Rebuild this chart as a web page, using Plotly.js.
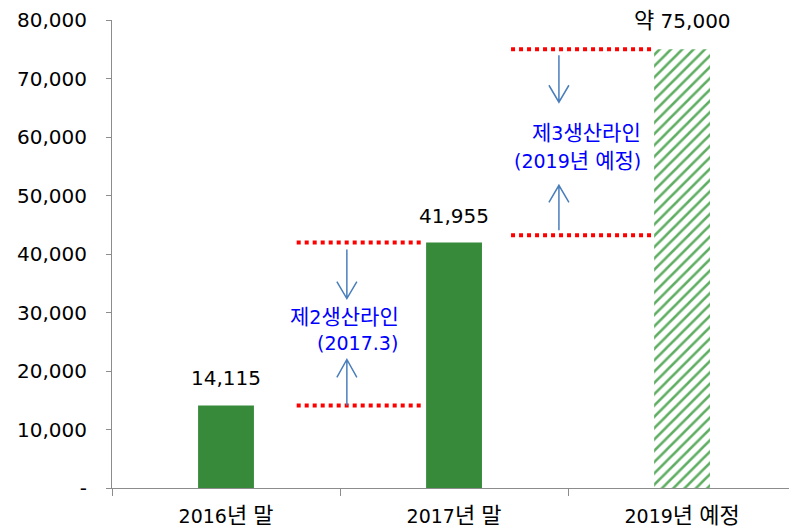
<!DOCTYPE html>
<html><head><meta charset="utf-8">
<script src="https://cdn.plot.ly/plotly-3.0.1.min.js"></script>
<style>html,body{margin:0;padding:0;background:#fff}</style>
</head><body><div id="chart" style="width:789px;height:529px"></div>
<script>
const categories = ["2016년 말", "2017년 말", "2019년 예정"];
const values = [14115, 41955, 75000];
const valueLabels = ["14,115", "41,955", "약 75,000"];
const yTickVals = [0, 10000, 20000, 30000, 40000, 50000, 60000, 70000, 80000];
const yTickText = ["-", "10,000", "20,000", "30,000", "40,000", "50,000", "60,000", "70,000", "80,000"];
const line2Levels = [14115, 41955];
const line3Levels = [43200, 75000];
const note2Lines = ["제2생산라인", "(2017.3)"];
const note3Lines = ["제3생산라인", "(2019년 예정)"];

const FONT = "DejaVu Sans, Noto Sans CJK KR, sans-serif";
const green = "#368a3a";
const hatch = "#5fae63";

// enlarge Hangul runs so they match the wide reference glyphs
function hangul(s, px) {
  return s.replace(/([가-힣]+)/g, '<span style="font-size:' + px + 'px;font-family:Noto Sans CJK KR">$1</span>');
}

const trace = {
  type: "bar",
  x: categories,
  y: values,
  width: 0.245,
  marker: {
    color: [green, green, hatch],
    line: {width: 0},
    pattern: {
      shape: ["", "", "/"],
      bgcolor: "#ffffff",
      size: 8, solidity: 0.32, fillmode: "replace"
    }
  },
  hoverinfo: "none"
};

const red = "#ff0000";
function hline(x0, x1, y) {
  return {type: "line", xref: "x", yref: "y", x0: x0, x1: x1, y0: y, y1: y,
    line: {color: red, width: 4, dash: "dot"}};
}
const arrowColor = "#4a7ebb";
function arrow(xc, yc, p) {
  return {type: "path", xref: "x", yref: "y", xsizemode: "pixel", ysizemode: "pixel",
    xanchor: xc, yanchor: yc, path: p, line: {color: arrowColor, width: 1.5}};
}

const shapes = [
  hline(0.31, 0.87, line2Levels[0]),
  hline(0.31, 0.87, line2Levels[1]),
  hline(1.25, 1.865, line3Levels[0]),
  hline(1.25, 1.865, line3Levels[1]),
  arrow(0.53, line2Levels[1], "M0,-7 L0,-56 M-10,-39 L0,-56 L10,-39"),
  arrow(0.53, line2Levels[0], "M0,0 L0,46 M-10,28 L0,46 L10,28"),
  arrow(1.46, line3Levels[1], "M0,-6 L0,-53 M-10,-36 L0,-53 L10,-36"),
  arrow(1.46, line3Levels[0], "M0,5 L0,50 M-10,33 L0,50 L10,33")
];

const annotations = values.map((v, i) => ({
  x: i, y: v, xref: "x", yref: "y", text: hangul(valueLabels[i], 22), showarrow: false,
  yanchor: "bottom", yshift: 13, font: {family: FONT, size: 20, color: "#000"}
}));
function note(x, y, line, shift) {
  return {x: x, y: y, xref: "x", yref: "y", text: hangul(line, 21), showarrow: false,
    xanchor: "right", yanchor: "middle", align: "right", yshift: shift,
    font: {family: FONT, size: 19, color: "#0000ff"}};
}
const mid2 = (line2Levels[0] + line2Levels[1]) / 2;
const mid3 = (line3Levels[0] + line3Levels[1]) / 2;
annotations.push(note(0.768, mid2, note2Lines[0], 9));
annotations.push(note(0.765, mid2, note2Lines[1], -19));
annotations.push(note(1.83, mid3, note3Lines[0], 11));
annotations.push(note(1.83, mid3, note3Lines[1], -17));

const layout = {
  width: 789, height: 529,
  margin: {l: 112, r: 0, t: 20, b: 41, pad: 0},
  paper_bgcolor: "#fff", plot_bgcolor: "#fff",
  showlegend: false,
  font: {family: FONT, size: 19, color: "#000"},
  xaxis: {
    type: "category", range: [-0.5, 2.469],
    tickvals: categories, ticktext: categories.map(c => hangul(c, 22)),
    showline: true, linecolor: "#8c8c8c", linewidth: 1,
    ticks: "outside", tickson: "boundaries", ticklen: 7, tickcolor: "#8c8c8c",
    showgrid: false, zeroline: false, ticklabelstandoff: 11,
    tickfont: {family: FONT, size: 19, color: "#000"}
  },
  yaxis: {
    range: [0, 80000], tickvals: yTickVals, ticktext: yTickText,
    showline: true, linecolor: "#8c8c8c", linewidth: 1,
    ticks: "outside", ticklen: 5, tickcolor: "#8c8c8c",
    showgrid: false, zeroline: false, ticklabelstandoff: 15,
    tickfont: {family: FONT, size: 20, color: "#000"}
  },
  shapes: shapes,
  annotations: annotations
};

Plotly.newPlot("chart", [trace], layout, {displayModeBar: false, staticPlot: true});
</script>
</body></html>
